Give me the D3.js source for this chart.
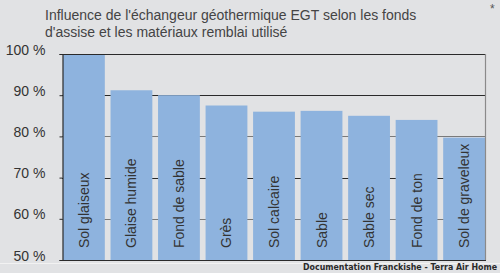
<!DOCTYPE html>
<html><head><meta charset="utf-8">
<script src="https://cdn.jsdelivr.net/npm/d3@7"></script>
<style>
html,body{margin:0;padding:0;background:#e1e2e4;}
svg{display:block;}
</style></head>
<body>
<script>
const categories = ["Sol glaiseux","Glaise humide","Fond de sable","Grès","Sol calcaire","Sable","Sable sec","Fond de ton","Sol de graveleux"];
const values = [100, 91.2, 90, 87.5, 86, 86.2, 85, 84, 79.7];
const yTicks = [50, 60, 70, 80, 90, 100];
const titleLines = ["Influence de l'échangeur géothermique EGT selon les fonds", "d'assise et les matériaux remblai utilisé"];
const footer = "Documentation Franckishe - Terra Air Home";

const W = 500, H = 273;
const svg = d3.select("body").append("svg").attr("width", W).attr("height", H);
svg.append("rect").attr("width", W).attr("height", H).attr("fill", "#e1e2e4");

const x = d3.scaleBand().domain(categories).range([63, 485]).paddingInner(0.12).paddingOuter(0);
const y = d3.scaleLinear().domain([50, 100]).range([260, 54]);

const font = "'Liberation Sans', Arial, sans-serif";

// title
svg.append("g").selectAll("text").data(titleLines).join("text")
  .attr("x", 45).attr("y", (d, i) => 20 + i * 17)
  .attr("font-family", font).attr("font-size", 14).attr("fill", "#444")
  .text(d => d);
svg.append("text").attr("x", 490).attr("y", 13).attr("font-family", font)
  .attr("font-size", 12).attr("fill", "#555").text("*");

// gridlines
svg.append("g").selectAll("line").data(yTicks.filter(t => t > 50 && t < 100)).join("line")
  .attr("x1", 62).attr("x2", 485)
  .attr("y1", d => Math.round(y(d)) + 0.5).attr("y2", d => Math.round(y(d)) + 0.5)
  .attr("stroke", d => (d === 90 || d === 70) ? "#2a2a2a" : "#7a7a7a").attr("stroke-width", 1.2);

// bars
svg.append("g").selectAll("rect").data(values).join("rect")
  .attr("x", (d, i) => x(categories[i]))
  .attr("y", d => y(d))
  .attr("width", x.bandwidth())
  .attr("height", d => y(50) - y(d))
  .attr("fill", "#8eb3de");

// frame: top dark, right gray
svg.append("line").attr("x1", 62).attr("x2", 485).attr("y1", 54.5).attr("y2", 54.5).attr("stroke", "#2a2a2a").attr("stroke-width", 1.2);
svg.append("line").attr("x1", 485.5).attr("x2", 485.5).attr("y1", 54).attr("y2", 260).attr("stroke", "#8a8a8a").attr("stroke-width", 1.2);

// axes
const yAxis = svg.append("g").attr("transform", "translate(62.5,0)")
  .call(d3.axisLeft(y).tickValues(yTicks).tickSize(3).tickFormat(d => d + " %"));
yAxis.select(".domain").attr("stroke", "#2a2a2a").attr("stroke-width", 1.2);
yAxis.selectAll(".tick line").attr("stroke", "#2a2a2a");
yAxis.selectAll(".tick text").attr("font-family", font).attr("font-size", 14).attr("fill", "#333")
  .attr("x", -17).attr("dy", "0.0em");
svg.append("line").attr("x1", 62).attr("x2", 486).attr("y1", 260.5).attr("y2", 260.5).attr("stroke", "#2a2a2a").attr("stroke-width", 1.2);

// bar labels
svg.append("g").selectAll("text").data(categories).join("text")
  .attr("transform", d => `translate(${x(d) + x.bandwidth() / 2 + 5},248) rotate(-90)`)
  .attr("font-family", font).attr("font-size", 14).attr("fill", "#333")
  .text(d => d);

// bottom strip and footer
svg.append("line").attr("x1", 0).attr("x2", W).attr("y1", 263.5).attr("y2", 263.5).attr("stroke", "#f2f2f2");
svg.append("text").attr("x", 497).attr("y", 269.5).attr("text-anchor", "end")
  .attr("font-family", "'DejaVu Sans', sans-serif").attr("font-size", 8).attr("font-weight", "bold")
  .attr("fill", "#2a2a2a").attr("textLength", 194).attr("lengthAdjust", "spacingAndGlyphs")
  .text(footer);
</script>
</body></html>
